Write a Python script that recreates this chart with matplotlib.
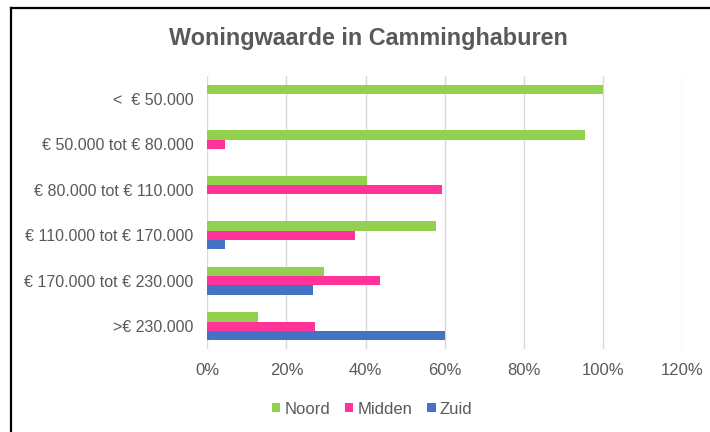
import matplotlib
matplotlib.use("Agg")
import matplotlib.pyplot as plt
import numpy as np
from matplotlib.lines import Line2D
from matplotlib.patches import Patch

plt.rcParams['font.family'] = ['Liberation Sans', 'DejaVu Sans']

categories = ["<  € 50.000", "€ 50.000 tot € 80.000", "€ 80.000 tot € 110.000",
              "€ 110.000 tot € 170.000", "€ 170.000 tot € 230.000", ">€ 230.000"]
noord = [1.00, 0.954, 0.403, 0.578, 0.294, 0.127]
midden = [0.0, 0.045, 0.594, 0.373, 0.436, 0.272]
zuid = [0.0, 0.0, 0.0, 0.045, 0.267, 0.600]
series_names = ["Noord", "Midden", "Zuid"]
colors = ["#92D050", "#FF3399", "#4472C4"]
xticks = [0, 0.2, 0.4, 0.6, 0.8, 1.0, 1.2]
xticklabels = ["0%", "20%", "40%", "60%", "80%", "100%", "120%"]
title = "Woningwaarde in Camminghaburen"

W, H = 710, 432
fig = plt.figure(figsize=(W / 100, H / 100), dpi=100)
fig.patch.set_facecolor("white")

ax = fig.add_axes([207.3 / W, 1 - 349 / H, (682 - 207.3) / W, (349 - 76) / H])

y = np.arange(len(categories))
h = 0.205
for i, (vals, c, name) in enumerate(zip([noord, midden, zuid], colors, series_names)):
    ax.barh(y + (i - 1) * h, vals, height=h, color=c, label=name, zorder=3)

ax.set_ylim(len(categories) - 0.5, -0.5)
ax.set_xlim(0, 1.2)
ax.set_xticks(xticks)
ax.set_xticklabels(xticklabels)
ax.set_yticks(y)
ax.set_yticklabels(categories)
ax.grid(axis="x", color="#D9D9D9", linewidth=1.0, zorder=0)
ax.grid(axis="y", visible=False)
for s in ["top", "right", "bottom", "left"]:
    ax.spines[s].set_visible(False)
ax.tick_params(axis="both", length=0, labelcolor="#595959")
ax.tick_params(axis="y", pad=10, labelsize=11.5)
ax.tick_params(axis="x", pad=10, labelsize=12)

fig.text(368.5 / W, 1 - 38.5 / H, title, ha="center", va="center",
         fontsize=16.8, fontweight="bold", color="#595959")

handles = [Patch(facecolor=c, edgecolor="none") for c in colors]
leg = fig.legend(handles, series_names, loc="center", bbox_to_anchor=(372 / W, 1 - 409 / H),
                 ncol=3, frameon=False, fontsize=12, handlelength=0.5, handleheight=0.5,
                 handletextpad=0.25, columnspacing=0.9)
for t in leg.get_texts():
    t.set_color("#595959")

# outer chart frame (left and top visible)
fig.add_artist(Line2D([11 / W, 11 / W], [0, 1 - 8 / H], transform=fig.transFigure,
                      color="black", linewidth=1.6))
fig.add_artist(Line2D([11 / W, 1], [1 - 8 / H, 1 - 8 / H], transform=fig.transFigure,
                      color="black", linewidth=1.6))

fig.savefig("out.png", dpi=100, facecolor="white")
